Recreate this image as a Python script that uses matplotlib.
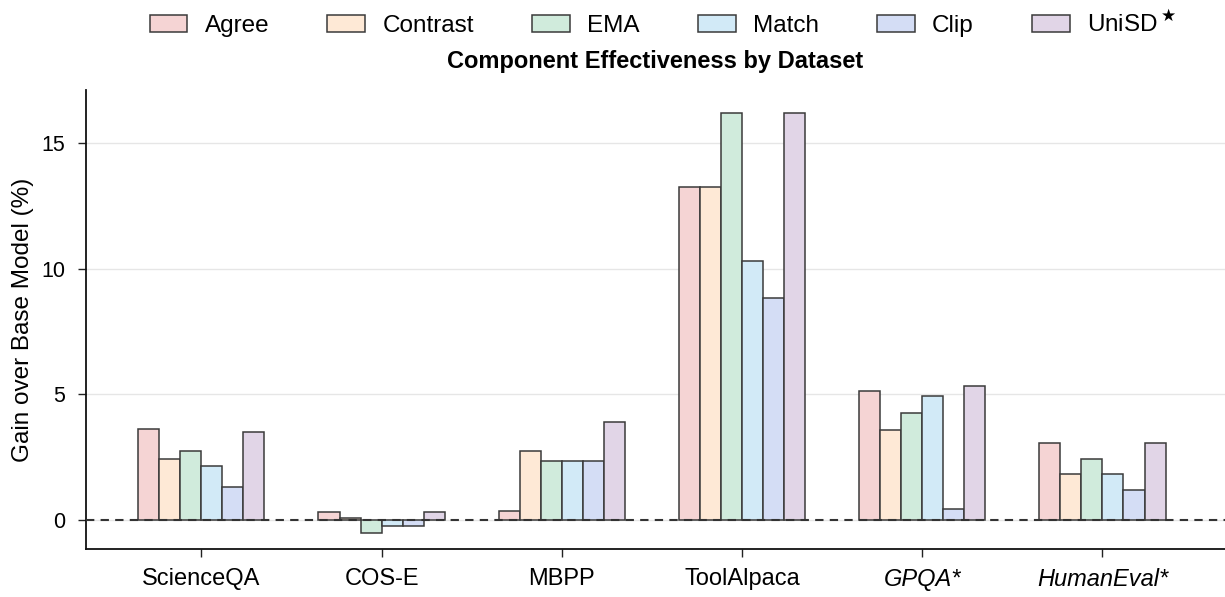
import matplotlib.pyplot as plt
import numpy as np
from matplotlib.patches import Patch

plt.rcParams["font.family"] = ["Liberation Sans", "DejaVu Sans"]

# -------------------------------------------------------------------
# Data
# -------------------------------------------------------------------
datasets = ["ScienceQA", "COS-E", "MBPP", "ToolAlpaca", "GPQA*", "HumanEval*"]
italic_sets = ["GPQA*", "HumanEval*"]
components = ["Agree", "Contrast", "EMA", "Match", "Clip", "UniSD$^{\\,\\bigstar}$"]

agree = [3.63, 0.33, 0.38, 13.23, 5.13, 3.05]
contrast = [2.43, 0.07, 2.73, 13.23, 3.57, 1.82]
ema = [2.75, -0.50, 2.33, 16.18, 4.24, 2.44]
match = [2.15, -0.25, 2.33, 10.29, 4.92, 1.82]
clip = [1.30, -0.25, 2.33, 8.82, 0.44, 1.21]
unisd = [3.51, 0.33, 3.91, 16.18, 5.35, 3.05]

series = [agree, contrast, ema, match, clip, unisd]
colors = ["#f5d4d4", "#fee9d6", "#d0ebdc", "#d2eaf7", "#d4ddf5", "#e1d5e7"]
EDGE = "#3a3a3a"

fig = plt.figure(figsize=(12.25, 5.97), dpi=100)
ax = fig.add_axes([86 / 1225, 1 - 549 / 597, 1 - 86 / 1225, (549 - 90) / 597])

x = np.arange(len(datasets))
width = 0.7 / len(series)
for i, (vals, col) in enumerate(zip(series, colors)):
    offset = (i - (len(series) - 1) / 2) * width
    ax.bar(x + offset, vals, width, color=col, edgecolor=EDGE, linewidth=1.1, zorder=3)

ax.axhline(0, color="#333333", linestyle=(0, (4, 3)), linewidth=1.5, zorder=4)
ax.yaxis.grid(True, color="#e6e6e6", linewidth=1.0, zorder=0)
ax.set_axisbelow(True)

ax.set_xlim(-0.64, 5.68)
ax.set_ylim(-1.15, 17.1)
ax.set_yticks([0, 5, 10, 15])
ax.set_xticks(x)
ax.set_xticklabels(datasets)
for lbl in ax.get_xticklabels():
    if lbl.get_text() in italic_sets:
        lbl.set_style("italic")
ax.tick_params(axis="x", labelsize=17, length=6, width=1, color="#222222", pad=8)
ax.tick_params(axis="y", labelsize=15.5, length=6, width=1, color="#222222", pad=9)

for side in ["top", "right"]:
    ax.spines[side].set_visible(False)
for side in ["left", "bottom"]:
    ax.spines[side].set_linewidth(1.3)
    ax.spines[side].set_color("#111111")

ax.set_ylabel("Gain over Base Model (%)", fontsize=17.5, labelpad=5)
ax.set_title("Component Effectiveness by Dataset", fontsize=17,
             fontweight="bold", pad=16)

handles = [Patch(facecolor=c, edgecolor=EDGE, linewidth=1.1) for c in colors]
fig.legend(handles, components, loc="center", bbox_to_anchor=(663 / 1225, 1 - 24 / 597),
           ncol=6, frameon=False, fontsize=17.5, handlelength=1.56, handleheight=0.66,
           handletextpad=0.7, columnspacing=2.4)

fig.savefig("out.png", dpi=100)
